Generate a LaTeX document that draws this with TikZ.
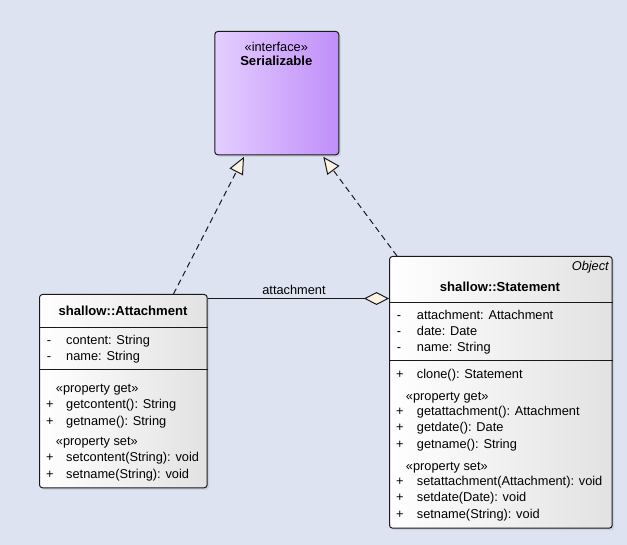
\documentclass[tikz,border=0pt]{standalone}
\usepackage{fontspec}
\setmainfont{Liberation Sans}
\usetikzlibrary{arrows.meta,shadows,calc}
\definecolor{bg}{RGB}{222,227,241}
\definecolor{cream}{RGB}{253,243,227}
\definecolor{ifl}{RGB}{228,206,255}
\definecolor{ifr}{RGB}{192,142,250}
\definecolor{clr}{RGB}{226,226,226}
\definecolor{edge}{RGB}{25,25,25}
\begin{document}
\begin{tikzpicture}[x=1pt,y=-1pt,
  font=\fontsize{12.8}{15}\selectfont,
  box/.style={draw=edge, line width=1pt, rounded corners=3pt, anchor=north west, inner sep=0pt,
    drop shadow={opacity=0.18, shadow xshift=2pt, shadow yshift=-2pt}},
  classbox/.style={box, left color=white, right color=clr},
  sep/.style={draw=edge, line width=1pt},
  txt/.style={anchor=base west, inner sep=0pt},
  ctxt/.style={anchor=base, inner sep=0pt},
  bold/.style={font=\fontsize{13.1}{15}\selectfont\bfseries},
  dep/.style={draw=edge, line width=1pt, dash pattern=on 6pt off 4pt,
    -{Triangle[length=17pt,width=15pt,fill=cream]}},
  assoc/.style={draw=edge, line width=1pt, -{Diamond[length=25pt,width=13pt,fill=cream]}}]
\fill[bg] (0,0) rectangle (627,545);
\useasboundingbox (0,0) rectangle (627,545);

% Interface
\node[box, minimum width=124pt, minimum height=123.3pt, left color=ifl, right color=ifr] (ser) at (214.3,31) {};
\node[ctxt] (sst) at (276.3,51.5) {«interface»};
\node[ctxt, bold] (sna) at (276.3,66) {Serializable};

% Attachment
\node[classbox, minimum width=167.7pt, minimum height=193.3pt] (att) at (39,294) {};
\draw[sep] (att.west |- 0,327.3) -- (att.east |- 0,327.3);
\draw[sep] (att.west |- 0,369.3) -- (att.east |- 0,369.3);
\node[ctxt, bold] (atn) at (123,316) {shallow::Attachment};
\node[txt] (am1) at (46.7,344.5) {-};
\node[txt] (at1) at (66,344.5) {content: String};
\node[txt] (am2) at (46.7,360.5) {-};
\node[txt] (at2) at (66,360.5) {name: String};
\node[txt] (ag) at (55.7,392.5) {«property get»};
\node[txt] (ap1) at (46,408.5) {+};
\node[txt] (ao1) at (66,408.5) {getcontent(): String};
\node[txt] (ap2) at (46,425) {+};
\node[txt] (ao2) at (66,425) {getname(): String};
\node[txt] (as) at (55.7,446) {«property set»};
\node[txt] (ap3) at (46,461.5) {+};
\node[txt] (ao3) at (66,461.5) {setcontent(String): void};
\node[txt] (ap4) at (46,478.3) {+};
\node[txt] (ao4) at (66,478.3) {setname(String): void};

% Statement
\node[classbox, minimum width=222.7pt, minimum height=271.7pt] (st) at (389,256) {};
\draw[sep] (st.west |- 0,302.3) -- (st.east |- 0,302.3);
\draw[sep] (st.west |- 0,361) -- (st.east |- 0,361);
\node[anchor=base east, inner sep=0pt, font=\fontsize{12.8}{15}\selectfont\itshape] (sob) at (609,271) {Object};
\node[ctxt, bold] (stn) at (500,291.6) {shallow::Statement};
\node[txt] (sm1) at (396.7,319.3) {-};
\node[txt] (sa1) at (416.7,319.3) {attachment: Attachment};
\node[txt] (sm2) at (396.7,336) {-};
\node[txt] (sa2) at (416.7,336) {date: Date};
\node[txt] (sm3) at (396.7,352) {-};
\node[txt] (sa3) at (416.7,352) {name: String};
\node[txt] (sp0) at (396,378.6) {+};
\node[txt] (so0) at (416.7,378.6) {clone(): Statement};
\node[txt] (sg) at (405.7,400.3) {«property get»};
\node[txt] (sp1) at (396,416) {+};
\node[txt] (so1) at (416.7,416) {getattachment(): Attachment};
\node[txt] (sp2) at (396,431.6) {+};
\node[txt] (so2) at (416.7,431.6) {getdate(): Date};
\node[txt] (sp3) at (396,448.3) {+};
\node[txt] (so3) at (416.7,448.3) {getname(): String};
\node[txt] (ss) at (405.7,470.3) {«property set»};
\node[txt] (sp4) at (396,485) {+};
\node[txt] (so4) at (416.7,485) {setattachment(Attachment): void};
\node[txt] (sp5) at (396,501) {+};
\node[txt] (so5) at (416.7,501) {setdate(Date): void};
\node[txt] (sp6) at (396,518.6) {+};
\node[txt] (so6) at (416.7,518.6) {setname(String): void};

% Connectors
\draw[dep] ($(att.north west)+(134.5,0)$) -- ($(ser.south west)+(29.7,1.5)$);
\draw[dep] ($(st.north west)+(8,0)$) -- ($(ser.south west)+(109,1.5)$);
\draw[assoc] (att.east |- 0,298.5) -- (st.west |- 0,298.5);
\node[ctxt] (lbl) at (294,295) {attachment};
\end{tikzpicture}
\end{document}
